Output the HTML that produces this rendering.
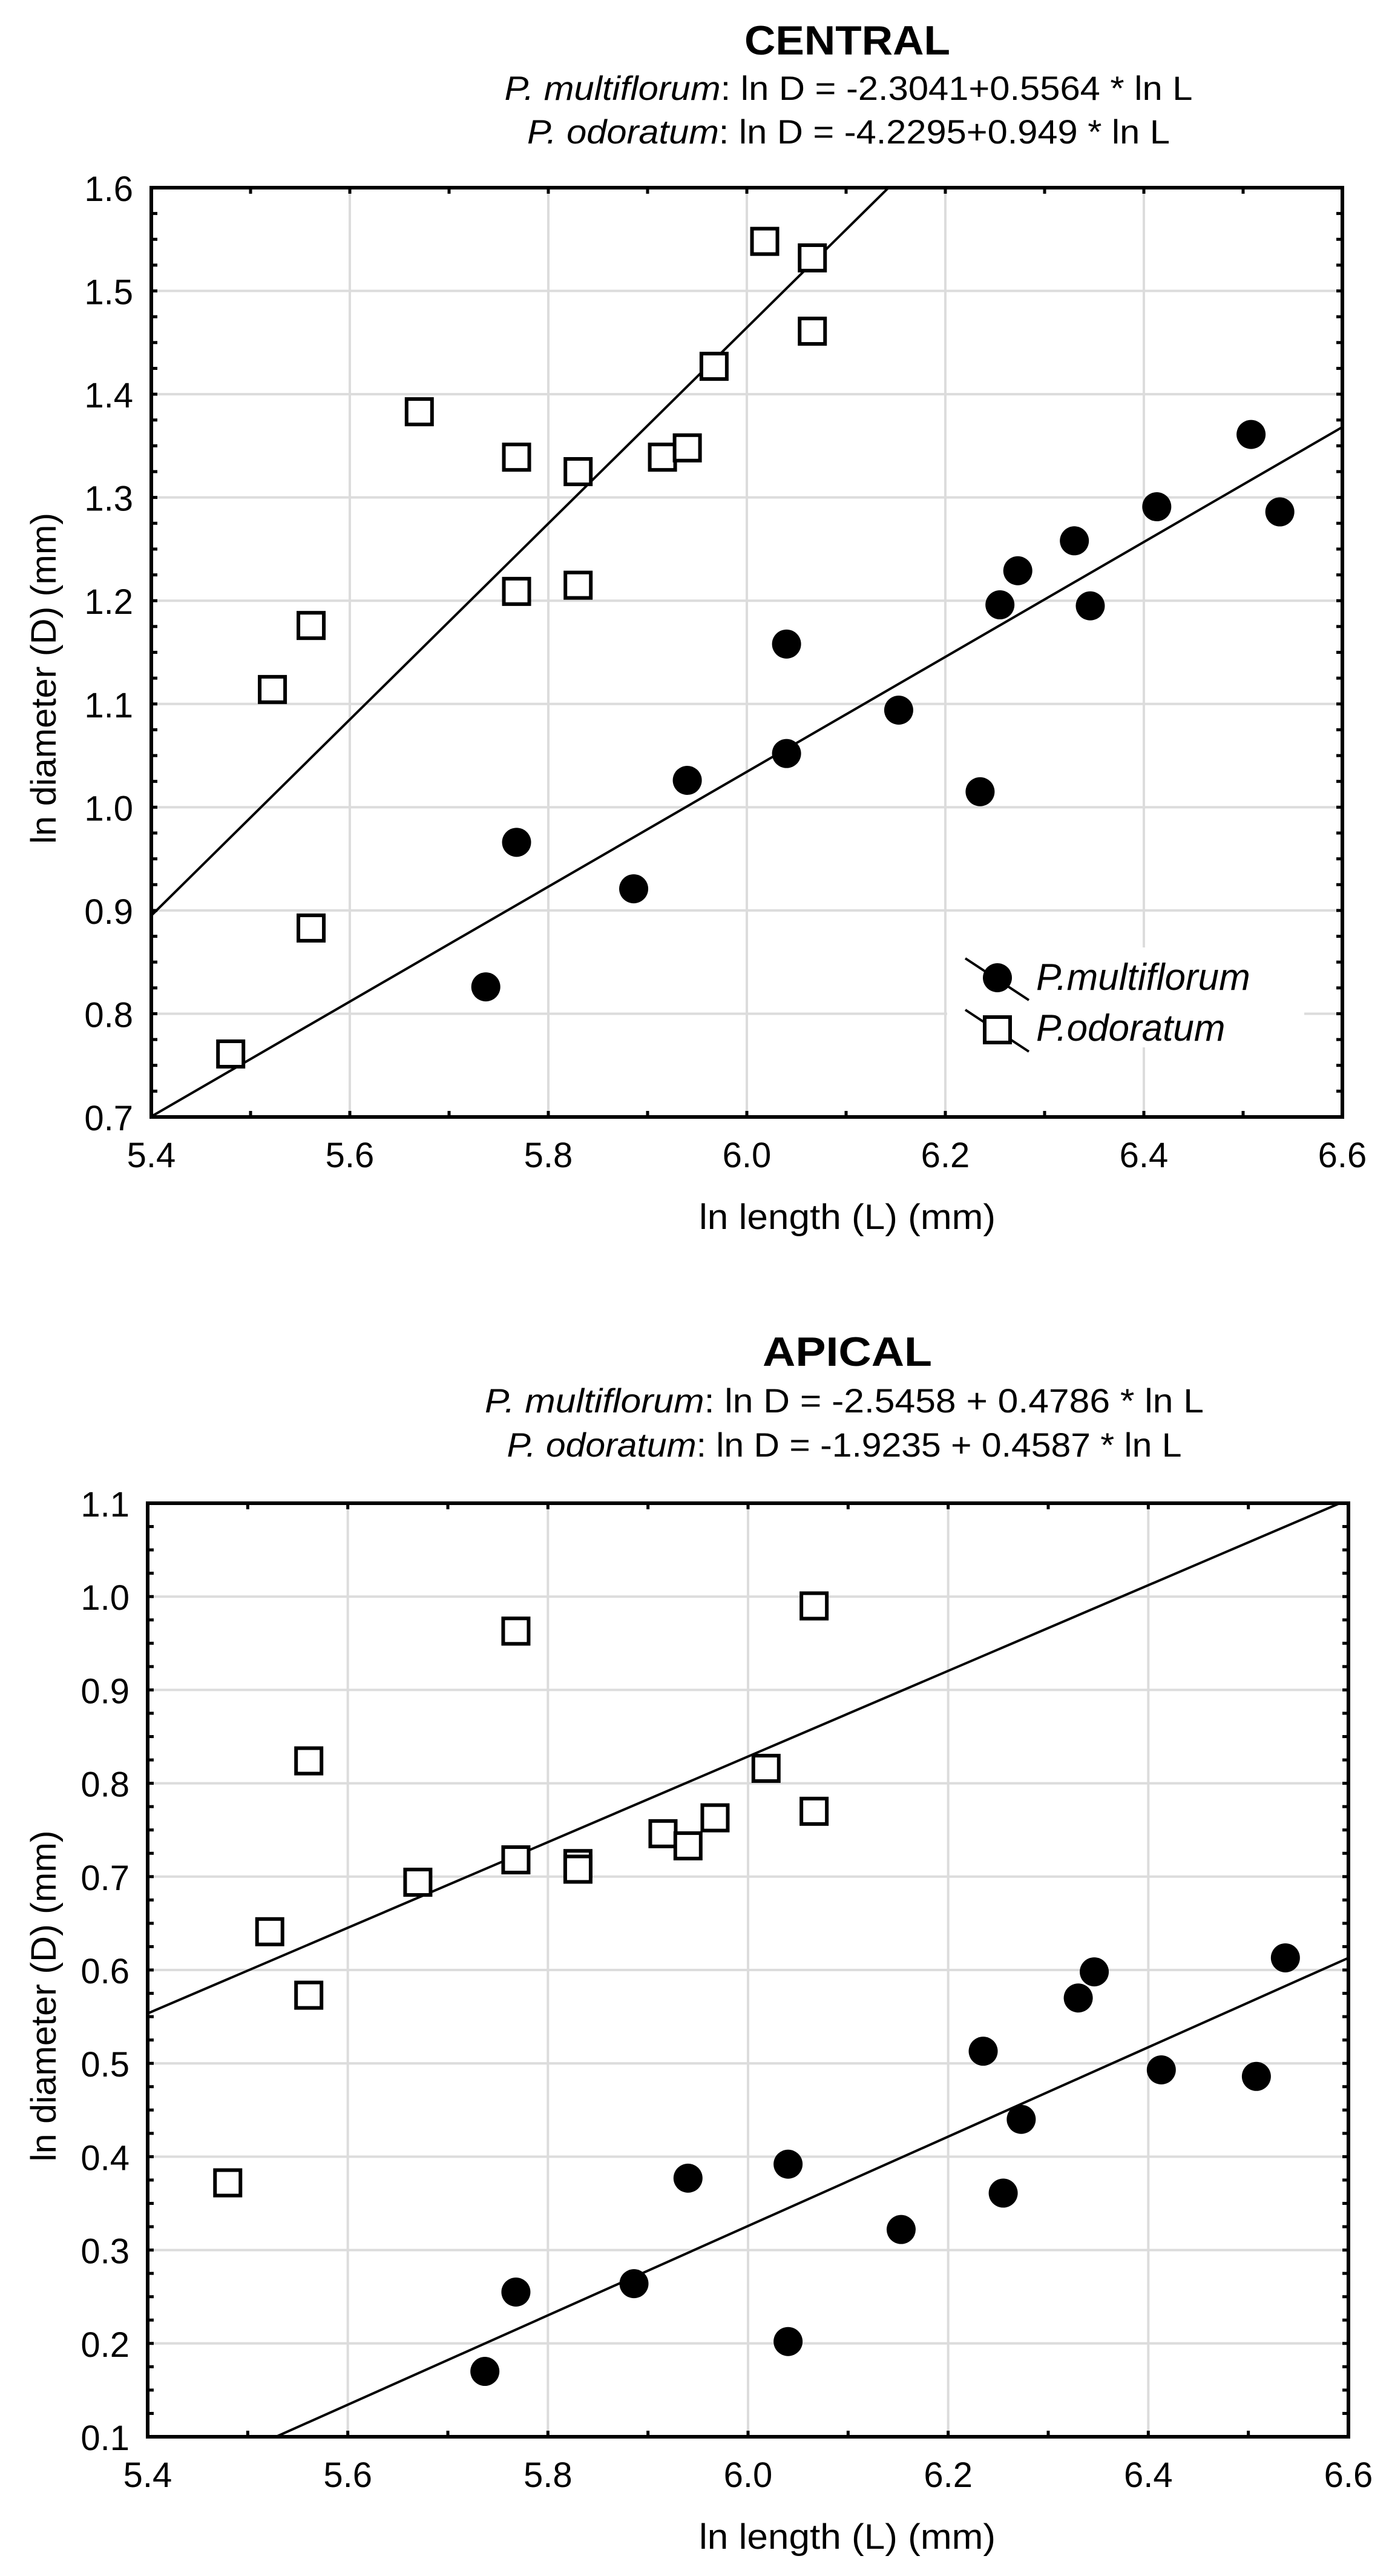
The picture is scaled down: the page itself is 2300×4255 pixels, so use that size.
<!DOCTYPE html>
<html><head><meta charset="utf-8"><style>
html,body{margin:0;padding:0;background:#fff;}
svg{display:block;font-family:"Liberation Sans",Arial,sans-serif;}
</style></head><body>
<svg id="fig" width="2300" height="4255" viewBox="0 0 2300 4255" xmlns="http://www.w3.org/2000/svg"></svg>
<script>
const xTicks=[5.4,5.6,5.8,6.0,6.2,6.4,6.6];
const cYTicks=[0.7,0.8,0.9,1.0,1.1,1.2,1.3,1.4,1.5,1.6];
const aYTicks=[0.1,0.2,0.3,0.4,0.5,0.6,0.7,0.8,0.9,1.0,1.1];
const cMultiX=[5.737,5.768,5.886,5.94,6.04,6.04,6.153,6.235,6.255,6.273,6.33,6.346,6.413,6.508,6.537];
const cMultiY=[0.826,0.966,0.921,1.026,1.052,1.158,1.094,1.015,1.196,1.229,1.258,1.195,1.291,1.361,1.286];
const cOdorX=[5.48,5.522,5.561,5.561,5.67,5.768,5.768,5.83,5.83,5.915,5.94,5.967,6.018,6.066,6.066];
const cOdorY=[0.761,1.114,1.176,0.883,1.383,1.339,1.209,1.325,1.215,1.339,1.348,1.427,1.548,1.532,1.461];
const aMultiX=[5.737,5.768,5.886,5.94,6.04,6.04,6.153,6.235,6.255,6.273,6.33,6.346,6.413,6.508,6.537];
const aMultiY=[0.17,0.255,0.264,0.377,0.392,0.202,0.322,0.513,0.361,0.44,0.57,0.598,0.493,0.486,0.613];
const aOdorX=[5.48,5.522,5.561,5.561,5.67,5.768,5.768,5.83,5.83,5.915,5.94,5.967,6.018,6.066,6.066];
const aOdorY=[0.372,0.641,0.824,0.573,0.694,0.963,0.718,0.714,0.708,0.746,0.733,0.763,0.816,0.99,0.77];
const cFitMulti=[-2.3041,0.5564];
const cFitOdor=[-4.2295,0.949];
const aFitMulti=[-2.5458,0.4786];
const aFitOdor=[-1.9235,0.4587];

const NS="http://www.w3.org/2000/svg";
const svg=document.getElementById('fig');
function mk(tag,attrs,parent){const e=document.createElementNS(NS,tag);for(const k in attrs)e.setAttribute(k,attrs[k]);(parent||svg).appendChild(e);return e;}

function panel(o){
  const g=mk('g',{});
  
  
  const X=v=>o.x0+(v-5.4)/1.2*(o.x1-o.x0);
  const Y=v=>o.y1-(v-o.ymin)/(o.ymax-o.ymin)*(o.y1-o.y0);
  let t=mk('text',{x:1400,y:o.ty,'text-anchor':'middle','font-size':68,'font-weight':'bold',textLength:o.tw,lengthAdjust:'spacingAndGlyphs'},g);t.textContent=o.title;
  
  o.eqs.forEach((eq,i)=>{
    const e=mk('text',{x:o.ecx,y:o.ty+o.eqdy[i],'text-anchor':'middle','font-size':56,textLength:o.ew[i],lengthAdjust:'spacingAndGlyphs'},g);
    
    
    const s=mk('tspan',{'font-style':'italic'},e);s.textContent=eq[0];
    const s2=mk('tspan',{},e);s2.textContent=eq[1];
  });
  xTicks.forEach(v=>{
    const l=mk('line',{x1:X(v),x2:X(v),y1:o.y0,y2:o.y1,stroke:'#dcdcdc','stroke-width':4},g);
    
    const tx=mk('text',{x:X(v),y:o.y1+83,'text-anchor':'middle','font-size':58},g);tx.textContent=v.toFixed(1);
    
  });
  o.yt.forEach(v=>{
    const l=mk('line',{x1:o.x0,x2:o.x1,y1:Y(v),y2:Y(v),stroke:'#dcdcdc','stroke-width':4},g);
    
    const tx=mk('text',{x:o.x0-30,y:Y(v)+22,'text-anchor':'end','font-size':58},g);tx.textContent=v.toFixed(1);
    
  });
  for(let i=0;i<=12;i++){const x=o.x0+i*(o.x1-o.x0)/12;
    mk('line',{x1:x,x2:x,y1:o.y1,y2:o.y1-10,stroke:'#000','stroke-width':5},g);
    mk('line',{x1:x,x2:x,y1:o.y0,y2:o.y0+10,stroke:'#000','stroke-width':5},g);}
  const ny=(o.yt.length-1)*4;
  for(let i=0;i<=ny;i++){const y=o.y0+i*(o.y1-o.y0)/ny;
    mk('line',{x1:o.x0,x2:o.x0+10,y1:y,y2:y,stroke:'#000','stroke-width':5},g);
    mk('line',{x1:o.x1,x2:o.x1-10,y1:y,y2:y,stroke:'#000','stroke-width':5},g);}
  const cid='clip'+o.name;
  const cp=mk('clipPath',{id:cid},g);mk('rect',{x:o.x0,y:o.y0,width:o.x1-o.x0,height:o.y1-o.y0},cp);
  [[o.fm,'fit-line-multiflorum'],[o.fo,'fit-line-odoratum']].forEach(([f,n])=>{
    const l=mk('line',{x1:X(5.4),y1:Y(f[0]+f[1]*5.4),x2:X(6.6),y2:Y(f[0]+f[1]*6.6),stroke:'#000','stroke-width':4,'clip-path':'url(#'+cid+')'},g);
    
  });
  o.ox.forEach((v,i)=>{
    const r=mk('rect',{x:X(v)-21,y:Y(o.oy[i])-21,width:42,height:42,fill:'#fff',stroke:'#000','stroke-width':6},g);
    
  });
  o.mx.forEach((v,i)=>{
    const c=mk('circle',{cx:X(v),cy:Y(o.my[i]),r:24,fill:'#000'},g);
    
  });
  const fr=mk('rect',{x:o.x0,y:o.y0,width:o.x1-o.x0,height:o.y1-o.y0,fill:'none',stroke:'#000','stroke-width':6},g);
  
  const xt=mk('text',{x:1400,y:o.y1+185,'text-anchor':'middle','font-size':58,textLength:490,lengthAdjust:'spacingAndGlyphs'},g);xt.textContent='ln length (L) (mm)';
  
  const ym=(o.y0+o.y1)/2+43;
  const yt=mk('text',{x:0,y:0,'text-anchor':'middle','font-size':58,textLength:547,lengthAdjust:'spacingAndGlyphs',transform:'translate(92,'+ym+') rotate(-90)'},g);yt.textContent='ln diameter (D) (mm)';
  
  if(o.legend){
    const lg=mk('g',{},g);
    
    mk('rect',{x:1565,y:1565,width:590,height:165,fill:'#fff'},lg);
    mk('line',{x1:1595,y1:1583,x2:1700,y2:1652,stroke:'#000','stroke-width':4},lg);
    mk('circle',{cx:1648,cy:1615,r:24,fill:'#000'},lg);
    mk('line',{x1:1595,y1:1668,x2:1700,y2:1737,stroke:'#000','stroke-width':4},lg);
    mk('rect',{x:1627,y:1680,width:42,height:42,fill:'#fff',stroke:'#000','stroke-width':6},lg);
    const a=mk('text',{x:1712,y:1635,'font-size':62,'font-style':'italic'},lg);a.textContent='P.multiflorum';
    
    const b=mk('text',{x:1712,y:1719,'font-size':62,'font-style':'italic'},lg);b.textContent='P.odoratum';
    
  }
}
panel({name:'central-chart',title:'CENTRAL',ty:90,tw:340,ecx:1402,eqdy:[75,147],ew:[1137,1062],
  eqs:[['P. multiflorum',': ln D = -2.3041+0.5564 * ln L'],['P. odoratum',': ln D = -4.2295+0.949 * ln L']],
  x0:250,x1:2218,y0:310,y1:1845,ymin:0.7,ymax:1.6,yt:cYTicks,mx:cMultiX,my:cMultiY,ox:cOdorX,oy:cOdorY,fm:cFitMulti,fo:cFitOdor,legend:true});
panel({name:'apical-chart',title:'APICAL',ty:2256,tw:280,ecx:1395,eqdy:[77,150],ew:[1188,1115],
  eqs:[['P. multiflorum',': ln D = -2.5458 + 0.4786 * ln L'],['P. odoratum',': ln D = -1.9235 + 0.4587 * ln L']],
  x0:244,x1:2228,y0:2483,y1:4025,ymin:0.1,ymax:1.1,yt:aYTicks,mx:aMultiX,my:aMultiY,ox:aOdorX,oy:aOdorY,fm:aFitMulti,fo:aFitOdor,legend:false});
</script>
</body></html>
